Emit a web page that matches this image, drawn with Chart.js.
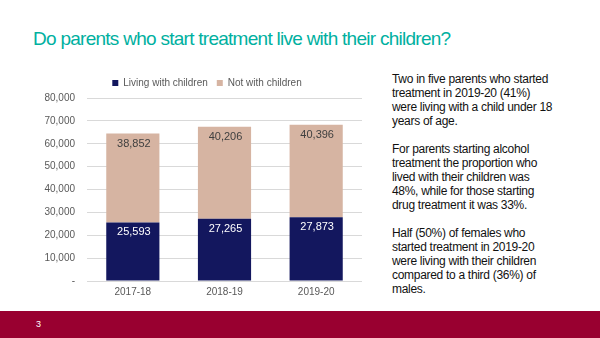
<!DOCTYPE html>
<html>
<head>
<meta charset="utf-8">
<script src="https://cdn.jsdelivr.net/npm/chart.js@4"></script>
<style>
  html, body { margin: 0; padding: 0; background: #fff; }
  body { width: 600px; height: 338px; position: relative; overflow: hidden; font-family: "Liberation Sans", Arial, sans-serif; }
  #title { position: absolute; left: 33px; top: 28px; font-size: 19px; color: #00b0a0; white-space: nowrap; letter-spacing: -0.73px; }
  #chartBox { position: absolute; left: 30px; top: 69px; width: 335px; height: 234px; }
  #notes { position: absolute; left: 392px; top: 72px; font-size: 12px; line-height: 14px; color: #111; letter-spacing: -0.3px; white-space: nowrap; }
  #notes p { margin: 0 0 14px 0; }
  #footer { position: absolute; left: 0; top: 311px; width: 600px; height: 27px; background: #990030; }
  #pageNum { position: absolute; left: 36px; top: 8px; font-size: 9px; color: #fff; }
</style>
</head>
<body>
<div id="title">Do parents who start treatment live with their children?</div>
<div id="chartBox"><canvas id="parentsChart"></canvas></div>
<div id="notes">
  <p>Two in five parents who started<br>treatment in 2019-20 (41%)<br>were living with a child under 18<br>years of age.</p>
  <p>For parents starting alcohol<br>treatment the proportion who<br>lived with their children was<br>48%, while for those starting<br>drug treatment it was 33%.</p>
  <p>Half (50%) of females who<br>started treatment in 2019-20<br>were living with their children<br>compared to a third (36%) of<br>males.</p>
</div>
<div id="footer"><div id="pageNum">3</div></div>

<script>
// Parents starting treatment, split by whether they live with their children
const years = ['2017-18', '2018-19', '2019-20'];
const livingWith = [25593, 27265, 27873];
const notWith = [38852, 40206, 40396];
const yTicks = [0, 10000, 20000, 30000, 40000, 50000, 60000, 70000, 80000];

const fmt = v => v.toLocaleString('en-GB');

// value labels sit just inside the top of each segment
const segmentLabels = {
    id: 'segmentLabels',
    afterDatasetsDraw(chart) {
        const c = chart.ctx;
        c.save();
        c.font = '11px "Liberation Sans", Arial, sans-serif';
        c.textAlign = 'center';
        c.textBaseline = 'middle';
        chart.data.datasets.forEach((ds, i) => {
            const meta = chart.getDatasetMeta(i);
            c.fillStyle = i === 0 ? '#ffffff' : '#404040';
            meta.data.forEach((bar, j) => {
                c.fillText(fmt(ds.data[j]), bar.x + 1, bar.y + 10);
            });
        });
        c.restore();
    }
};

// nudge the legend a little to the right, over the plot
const legendShift = {
    id: 'legendShift',
    afterLayout(chart) {
        if (chart.legend) {
            chart.legend.left += 11;
            chart.legend.right += 11;
        }
    }
};

const ctx = document.getElementById('parentsChart').getContext('2d');
const parentsChart = new Chart(ctx, {
    type: 'bar',
    data: {
        labels: years,
        datasets: [{
            label: 'Living with children',
            data: livingWith,
            backgroundColor: '#13175e'
        }, {
            label: 'Not with children',
            data: notWith,
            backgroundColor: '#d6b4a2'
        }]
    },
    options: {
        responsive: true,
        maintainAspectRatio: false,
        animation: false,
        layout: { padding: { right: 3 } },
        datasets: {
            bar: { categoryPercentage: 0.58, barPercentage: 1 }
        },
        plugins: {
            legend: {
                position: 'top',
                labels: {
                    boxWidth: 6,
                    boxHeight: 6,
                    padding: 9,
                    color: '#595959',
                    font: { size: 10, family: '"Liberation Sans", Arial, sans-serif' }
                }
            },
            tooltip: { enabled: false }
        },
        scales: {
            x: {
                stacked: true,
                grid: { display: false, drawTicks: false },
                border: { display: false },
                ticks: {
                    color: '#595959',
                    padding: 5,
                    font: { size: 10, family: '"Liberation Sans", Arial, sans-serif' }
                }
            },
            y: {
                stacked: true,
                min: 0,
                max: 80000,
                afterFit(scale) { scale.width = 57; },
                afterBuildTicks(scale) { scale.ticks = yTicks.map(v => ({ value: v })); },
                grid: { color: '#d9d9d9', drawTicks: false },
                border: { display: false },
                ticks: {
                    color: '#595959',
                    padding: 12,
                    font: { size: 10, family: '"Liberation Sans", Arial, sans-serif' },
                    callback: v => v === 0 ? '-' : fmt(v)
                }
            }
        }
    },
    plugins: [segmentLabels, legendShift]
});
</script>
</body>
</html>
